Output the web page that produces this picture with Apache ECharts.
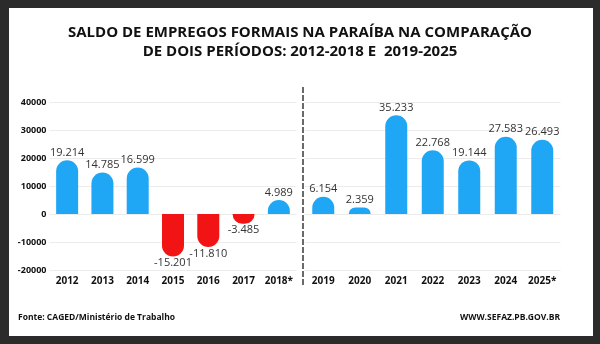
<!DOCTYPE html>
<html>
<head>
<meta charset="utf-8">
<script src="https://cdn.jsdelivr.net/npm/echarts@6/dist/echarts.min.js"></script>
<style>
  html, body { margin: 0; padding: 0; background: #2b2b2b; }
  #card { position: absolute; left: 9px; top: 8px; width: 584px; height: 328px; background: #ffffff; }
  #chart { position: absolute; left: 0; top: 0; width: 600px; height: 344px; }
</style>
</head>
<body>
<div id="card"></div>
<div id="chart"></div>
<script>
const leftYears = ['2012', '2013', '2014', '2015', '2016', '2017', '2018*'];
const leftValues = [19214, 14785, 16599, -15201, -11810, -3485, 4989];
const rightYears = ['2019', '2020', '2021', '2022', '2023', '2024', '2025*'];
const rightValues = [6154, 2359, 35233, 22768, 19144, 27583, 26493];
const yTicks = { min: -20000, max: 40000, interval: 10000 };

const BLUE = '#1fa6f5';
const RED = '#f21414';
const FONT = '"Open Sans", "Noto Sans", sans-serif';

function fmt(v) {
  const s = Math.abs(v).toString().replace(/\B(?=(\d{3})+(?!\d))/g, '.');
  return (v < 0 ? '-' : '') + s;
}
function items(values) {
  return values.map(v => ({
    value: v,
    itemStyle: {
      color: v < 0 ? RED : BLUE,
      borderRadius: v < 0 ? [0, 0, 11, 11] : [11, 11, 0, 0]
    },
    label: { position: v < 0 ? 'bottom' : 'top', distance: v < 0 ? 1 : 2 }
  }));
}
function xAxis(idx, data) {
  return {
    type: 'category', gridIndex: idx, data: data,
    axisLine: { show: false }, axisTick: { show: false },
    axisLabel: { color: '#111', fontWeight: 'bold', fontSize: 10, fontFamily: FONT, margin: 6, interval: 0 }
  };
}
function yAxis(idx, showLabels) {
  return {
    type: 'value', gridIndex: idx, min: yTicks.min, max: yTicks.max, interval: yTicks.interval,
    axisLine: { show: false }, axisTick: { show: false },
    splitLine: { lineStyle: { color: '#ececec', width: 1 } },
    axisLabel: {
      show: showLabels, color: '#111', fontWeight: 'bold', fontSize: 9, fontFamily: FONT, margin: 3,
      formatter: v => String(v)
    }
  };
}
const labelStyle = {
  show: true, color: '#333', fontSize: 11, fontFamily: FONT,
  formatter: p => fmt(p.value)
};

const chart = echarts.init(document.getElementById('chart'));
chart.setOption({
  backgroundColor: 'transparent',
  animation: false,
  title: [
    {
      text: 'SALDO DE EMPREGOS FORMAIS NA PARAÍBA NA COMPARAÇÃO\nDE DOIS PERÍODOS: 2012-2018 E  2019-2025',
      left: 'center', top: 18,
      textStyle: { fontFamily: FONT, fontWeight: 'bold', fontSize: 15, color: '#111', lineHeight: 19, align: 'center' }
    },
    {
      text: 'Fonte: CAGED/Ministério de Trabalho',
      left: 13, top: 308,
      textStyle: { fontFamily: FONT, fontWeight: 'bold', fontSize: 8.5, color: '#111' }
    },
    {
      text: 'WWW.SEFAZ.PB.GOV.BR',
      right: 35, top: 308,
      textStyle: { fontFamily: FONT, fontWeight: 'bold', fontSize: 8.5, color: '#111' }
    }
  ],
  grid: [
    { left: 49.5, right: 303.5, top: 102, bottom: 74 },
    { left: 305, right: 39.5, top: 102, bottom: 74 }
  ],
  xAxis: [xAxis(0, leftYears), xAxis(1, rightYears)],
  yAxis: [yAxis(0, true), yAxis(1, false)],
  series: [
    { type: 'bar', xAxisIndex: 0, yAxisIndex: 0, barWidth: 22, data: items(leftValues), label: labelStyle },
    { type: 'bar', xAxisIndex: 1, yAxisIndex: 1, barWidth: 22, data: items(rightValues), label: labelStyle }
  ],
  graphic: [
    {
      type: 'line', z: 10,
      shape: { x1: 303, y1: 87, x2: 303, y2: 286 },
      style: { stroke: '#3a3a3a', lineWidth: 1.5, lineDash: [6, 2] }
    }
  ]
});
</script>
</body>
</html>
